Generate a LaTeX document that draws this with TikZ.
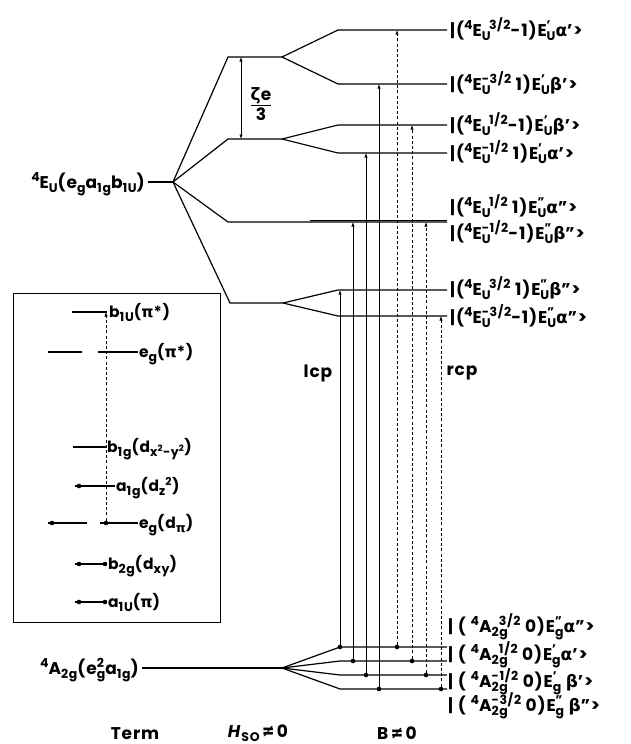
\documentclass[tikz,border=0pt]{standalone}
\usepackage{fontspec}
\setmainfont{Poppins}[LetterSpace=5]
\newfontfamily\grk{DejaVu Sans}
\usetikzlibrary{arrows.meta}

% raised and lowered indices, stacked on one letter
\newcommand{\scr}{\fontsize{12.5}{13}\selectfont}
\newcommand{\up}[1]{\raisebox{7pt}{\scr #1}}
\newcommand{\dn}[1]{\raisebox{-4pt}{\scr #1}}
\newcommand{\supsub}[2]{\begingroup
  \setbox0\hbox{\up{#1}}\setbox2\hbox{\dn{#2}}%
  \ifdim\wd0>\wd2 \rlap{\box2}\box0 \else\rlap{\box0}\box2\fi\endgroup}
\newcommand{\gk}[1]{{\grk #1}}
\newcommand{\Eu}[1]{\up{4}E\supsub{#1}{U}}
\newcommand{\Ag}[1]{\up{4}A\supsub{#1}{2g}}

\begin{document}
\begin{tikzpicture}[x=1pt, y=-1pt, >={Latex[length=4.5pt,width=3.2pt]},
    every node/.style={font=\fontsize{17}{19}\selectfont\bfseries},
    lvl/.style={line width=1.2pt},
    trans/.style={line width=0.6pt},
    rcpline/.style={line width=0.6pt, dash pattern=on 3pt off 2.2pt},
    dot/.style={circle, fill=black, inner sep=0pt, minimum size=4.6pt},
    ket/.style={anchor=base west, inner sep=0pt},
    mo/.style={ket, font=\fontsize{15.5}{17}\selectfont\bfseries},
    term/.style={anchor=base east, inner sep=0pt}]
    \useasboundingbox (0,0) rectangle (631,744);

    % terms on the left
    \node[term] (Eu) at (145,188) {\up{4}E\dn{U}(e\dn{g}a\dn{1g}b\dn{1U})};
    \node[term] (A2g) at (139,674) {\up{4}A\dn{2g}(e\supsub{2}{g}a\dn{1g})};
    \coordinate (Eu0) at (148,182);
    \coordinate (EuS) at (173,182);
    \coordinate (Ag0) at (142,668);
    \coordinate (AgS) at (282,668);

    % spin-orbit levels
    \coordinate (m1a) at (228,57);  \coordinate (m1b) at (282,57);
    \coordinate (m2a) at (228,139); \coordinate (m2b) at (282,139);
    \coordinate (m3a) at (228,222);
    \coordinate (m4a) at (230,303); \coordinate (m4b) at (283,303);

    % Zeeman levels of the excited term
    \foreach \n/\y in {1/30, 2/84, 3/125, 4/153, 5/222, 7/290, 8/316} {
        \coordinate (r\n a) at (338,\y);
        \coordinate (r\n b) at (447,\y);
    }
    % Zeeman levels of the ground term
    \foreach \n/\y in {1/647, 2/661, 3/675, 4/689} {
        \coordinate (g\n a) at (340,\y);
        \coordinate (g\n b) at (447,\y);
    }

    \draw[lvl] (Eu0) -- (EuS);
    \draw[lvl] (EuS) -- (m1a) -- (m1b);
    \draw[lvl] (EuS) -- (m2a) -- (m2b);
    \draw[lvl] (EuS) -- (m3a) -- (r5b);
    \draw[lvl] (EuS) -- (m4a) -- (m4b);
    \draw[lvl] (310,220.4) -- (r5b |- 0,220.4);
    \draw[lvl] (m1b) -- (r1a) -- (r1b);
    \draw[lvl] (m1b) -- (r2a) -- (r2b);
    \draw[lvl] (m2b) -- (r3a) -- (r3b);
    \draw[lvl] (m2b) -- (r4a) -- (r4b);
    \draw[lvl] (m4b) -- (r7a) -- (r7b);
    \draw[lvl] (m4b) -- (r8a) -- (r8b);
    \draw[lvl] (Ag0) -- (AgS);
    \foreach \n in {1,...,4}
        \draw[lvl] (AgS) -- (g\n a) -- (g\n b);

    % spin-orbit gap
    \coordinate (zt) at (241,57);
    \coordinate (zb) at (241,139);
    \draw[<->, trans] (zt) -- (zb);
    \node[inner sep=0pt, anchor=base] (zeta) at (261,100) {\gk{ζ}e};
    \node[inner sep=0pt, anchor=base] (three) at (261,120) {3};
    \draw[line width=1.2pt] ([yshift=-2pt]zeta.south west) -- ([yshift=-2pt]zeta.south east);

    % lcp transitions (solid) and rcp transitions (dashed)
    \foreach \x/\g/\r in {340/1/7, 353/2/5, 366/3/4, 379/4/2} {
        \node[dot] (l\g) at (\x,0 |- g\g a) {};
        \draw[->, trans] (l\g) -- (l\g |- r\r a);
    }
    \foreach \x/\g/\r in {397/1/1, 412/2/3, 426/3/5, 441/4/8} {
        \node[dot] (c\g) at (\x,0 |- g\g a) {};
        \draw[->, rcpline] (c\g) -- (c\g |- r\r a);
    }
    \node (lcp) at (318,373) {lcp};
    \node (rcp) at (462,373) {rcp};

    % state labels on the right
    \node[ket] (k1) at (450,36)  {|(\Eu{\phantom{-}3/2}-1)E\supsub{'}{U}\gk{α}'>};
    \node[ket] (k2) at (450,90)  {|(\Eu{-3/2}~1)E\supsub{'}{U}\gk{β}'>};
    \node[ket] (k3) at (450,131) {|(\Eu{\phantom{-}1/2}-1)E\supsub{'}{U}\gk{β}'>};
    \node[ket] (k4) at (450,159) {|(\Eu{-1/2}~1)E\supsub{'}{U}\gk{α}'>};
    \node[ket] (k5) at (450,213) {|(\Eu{\phantom{-}1/2}~1)E\supsub{''}{U}\gk{α}''>};
    \node[ket] (k6) at (450,239) {|(\Eu{-1/2}-1)E\supsub{''}{U}\gk{β}''>};
    \node[ket] (k7) at (450,295) {|(\Eu{\phantom{-}3/2}~1)E\supsub{''}{U}\gk{β}''>};
    \node[ket] (k8) at (450,323) {|(\Eu{-3/2}-1)E\supsub{''}{U}\gk{α}''>};
    \node[ket] (a1) at (448,632) {|\;(\;\Ag{\phantom{-}3/2}~0)E\supsub{''}{g}\gk{α}''>};
    \node[ket] (a2) at (448,660) {|\;(\;\Ag{\phantom{-}1/2}~0)E\supsub{'}{g}\gk{α}'>};
    \node[ket] (a3) at (448,687) {|\;(\;\Ag{-1/2}~0)E\supsub{'}{g}~\gk{β}'>};
    \node[ket] (a4) at (448,711) {|\;(\;\Ag{-3/2}~0)E\supsub{''}{g}~\gk{β}''>};

    % orbital inset
    \coordinate (box1) at (13,293);
    \coordinate (box2) at (220,622);
    \draw[line width=0.9pt] (box1) rectangle (box2);
    \draw[lvl] (72,312) -- (107,312);
    \draw[lvl] (48,352) -- (82,352) (98,352) -- (138,352);
    \draw[lvl] (73,447) -- (106,447);
    \draw[lvl] (75,486) -- (115,486);
    \draw[lvl] (48,523) -- (87,523) (100,523) -- (138,523);
    \draw[lvl] (75,564) -- (107,564);
    \draw[lvl] (75,602) -- (107,602);
    \node[mo] (b1u) at (109,317) {b\dn{1U}(\gk{π}*)};
    \node[mo] (egs) at (139,357) {e\dn{g}(\gk{π}*)};
    \node[mo] (b1g) at (107,452) {b\dn{1g}(d\dn{x\textsuperscript{2}-y\textsuperscript{2}})};
    \node[mo] (a1g) at (116,491) {a\dn{1g}(d\dn{z}\textsuperscript{2})};
    \node[mo] (egd) at (139,528) {e\dn{g}(d\dn{\gk{π}})};
    \node[mo] (b2g) at (108,569) {b\dn{2g}(d\dn{xy})};
    \node[mo] (a1u) at (108,607) {a\dn{1U}(\gk{π})};
    \node[dot] (e1) at (79,486) {};
    \node[dot] (e2) at (52,523) {};
    \node[dot] (e3) at (106,523) {};
    \node[dot] (e4) at (79,564) {};
    \node[dot] (e5) at (105,564) {};
    \node[dot] (e6) at (79,602) {};
    \node[dot] (e7) at (105,602) {};
    \draw[->, rcpline] (e3) -- (e3 |- 0,312);

    % column heads
    \node[anchor=base] (term) at (135,739) {Term};
    \node[anchor=base] (hso) at (258,737) {\textit{H}\dn{SO}\,≠\,0};
    \node[anchor=base] (bz) at (397,739) {B\,≠\,0};
\end{tikzpicture}
\end{document}
